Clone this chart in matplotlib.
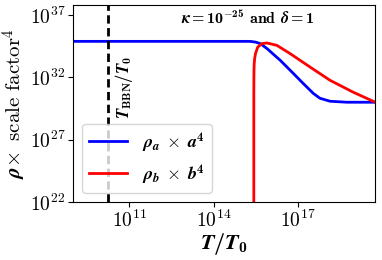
import numpy as np
import matplotlib
matplotlib.use('Agg')
import matplotlib.pyplot as plt
from matplotlib.ticker import NullLocator

# fuente tipo LaTeX (Computer Modern) y negrita cursiva para los simbolos
plt.rcParams['font.family'] = ['cmr10', 'DejaVu Serif']
plt.rcParams['axes.formatter.use_mathtext'] = True
plt.rcParams['mathtext.fontset'] = 'custom'
plt.rcParams['mathtext.rm'] = 'cmr10'
plt.rcParams['mathtext.it'] = 'STIXGeneral:italic'
plt.rcParams['mathtext.bf'] = 'cmb10'
plt.rcParams['mathtext.bfit'] = 'STIXGeneral:italic:bold'

# curvas (exponentes en base 10)
a_logT = [9.0, 15.3, 15.49, 15.66, 15.9, 16.37, 16.83, 17.18, 17.54, 17.78, 18.14,
          18.74, 19.73]
a_logrho = [34.88, 34.88, 34.82, 34.7, 34.3, 33.36, 32.32, 31.52, 30.72, 30.32, 30.08,
            30.0, 30.0]

b_logT = [15.43, 15.4303, 15.431, 15.433, 15.437, 15.445, 15.46, 15.49, 15.57, 15.72,
          15.9, 16.25, 16.72, 17.43, 18.14, 18.95, 19.73]
b_logrho = [20.0, 28.0, 30.5, 31.8, 32.6, 33.1, 33.5, 33.9, 34.42, 34.7,
            34.75, 34.56, 33.9, 32.82, 31.76, 30.82, 30.02]

T_bbn = 1.8e10

x_ticks = [1e11, 1e14, 1e17]
y_ticks = [1e22, 1e27, 1e32, 1e37]


def graficar():
    fig = plt.figure(figsize=(3.82, 2.6), dpi=100)
    ax = fig.add_axes([0.191, 0.223, 0.79, 0.758])

    ax.plot(10.0 ** np.array(a_logT), 10.0 ** np.array(a_logrho), color='blue', lw=2,
            label=r'$\boldsymbol{\rho}_\boldsymbol{a}\ \times\ \boldsymbol{a}^\mathbf{4}$')
    ax.plot(10.0 ** np.array(b_logT), 10.0 ** np.array(b_logrho), color='red', lw=2,
            label=r'$\boldsymbol{\rho}_\boldsymbol{b}\ \times\ \boldsymbol{b}^\mathbf{4}$')
    ax.axvline(T_bbn, color='black', ls='--', lw=2, dashes=(3, 1.6))

    ax.set_xscale('log')
    ax.set_yscale('log')
    ax.set_xlim(1e9, 10 ** 19.73)
    ax.set_ylim(1e22, 10 ** 37.8)
    ax.set_xticks(x_ticks)
    ax.set_yticks(y_ticks)
    ax.xaxis.set_minor_locator(NullLocator())
    ax.yaxis.set_minor_locator(NullLocator())
    ax.tick_params(labelsize=14, pad=2)

    ax.set_xlabel(r'$\boldsymbol{T}\mathbf{/}\boldsymbol{T}_\mathbf{0}$', fontsize=16, labelpad=0)
    ax.set_ylabel(r'$\boldsymbol{\rho}\!\times$ scale factor$^4$', fontsize=15, labelpad=1)

    ax.text(10 ** 15.2, 10 ** 36.72,
            r'$\boldsymbol{\kappa}\mathbf{=10^{-25}}$ $\mathbf{and}$ $\boldsymbol{\delta}\mathbf{=1}$',
            fontsize=11.5, ha='center', va='center')
    ax.text(10 ** 10.8, 10 ** 31.2, r'$\boldsymbol{T}_\mathbf{BBN}\mathbf{/}\boldsymbol{T}_\mathbf{0}$',
            fontsize=12, rotation=90, ha='center', va='center')

    ax.legend(loc='lower left', fontsize=13, handlelength=2.1, borderaxespad=0.5)

    fig.savefig('out.png', dpi=100)


if __name__ == '__main__':
    graficar()
